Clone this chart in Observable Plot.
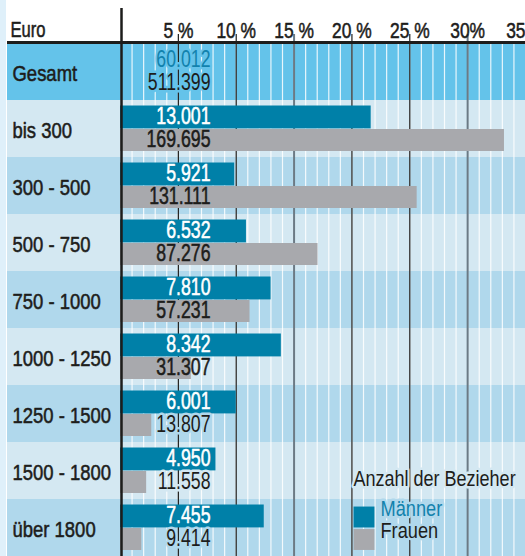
<!DOCTYPE html>
<html><head><meta charset="utf-8">
<script src="https://cdn.jsdelivr.net/npm/d3@7"></script>
<script src="https://cdn.jsdelivr.net/npm/@observablehq/plot@0.6"></script>
<style>
body{margin:0;background:#fff;}
#chart svg{display:block;}
</style></head><body><div id="chart"></div>
<script>
const categories = ["Gesamt","bis 300","300 - 500","500 - 750","750 - 1000","1000 - 1250","1250 - 1500","1500 - 1800","über 1800"];
const maenner = [60012,13001,5921,6532,7810,8342,6001,4950,7455];
const frauen  = [511399,169695,131111,87276,57231,31307,13807,11558,9414];
const tickValues = [5,10,15,20,25,30,35];
const tickLabels = ["5 %","10 %","15 %","20 %","25 %","30%","35"];
const legendTitle = "Anzahl der Bezieher";
const seriesNames = ["Männer","Frauen"];

const TEAL = "#0080a8", GRAY = "#a8a9ad", INK = "#1d1d1b", TEAL_TEXT = "#1282ad";
const BG_TOTAL = "#64c3ea", BG_LIGHT = "#d4e8f2", BG_DARK = "#b0d8ec";
const xMax = 35;
const FONT = "'Liberation Sans', Arial, sans-serif";

// font sizes, each mapped to a horizontal condensing factor (imitates the condensed face)
const FS_VALUE = 23, FS_ROW = 22, FS_TICK = 22.6, FS_EURO = 22.4, FS_LTITLE = 21.2, FS_LITEM = 22.2;
const condense = {[FS_VALUE]: 0.77, [FS_ROW]: 0.84, [FS_TICK]: 0.77, [FS_EURO]: 0.74, [FS_LTITLE]: 0.85, [FS_LITEM]: 0.82};

const fmt = d3.formatLocale({thousands: ".", grouping: [3], decimal: ",", currency: ["","€"]}).format(",d");

const rows = categories.map((c, i) => ({
  cat: c, i,
  m: maenner[i], f: frauen[i],
  mShare: maenner[i] / maenner[0] * 100,
  fShare: frauen[i] / frauen[0] * 100,
  bg: i === 0 ? BG_TOTAL : (i % 2 ? BG_LIGHT : BG_DARK)
}));
const barRows = rows.slice(1);

// text: either with a halo in the background colour (hides grid lines) or with a thin stroke for weight
function label(data, opts, haloColor) {
  if (haloColor) return Plot.text(data, {...opts, stroke: haloColor, strokeWidth: 5, paintOrder: "stroke", strokeLinejoin: "round"});
  return Plot.text(data, {...opts, stroke: opts.fill, strokeWidth: 0.55});
}

const chart = Plot.plot({
  width: 525, height: 556,
  marginLeft: 120, marginRight: 0, marginTop: 42, marginBottom: 0,
  x: {domain: [0, xMax], axis: null},
  y: {domain: categories, axis: null, padding: 0},
  color: {type: "identity"},
  style: {fontFamily: FONT, background: "linear-gradient(to right, #dff0fa 0px, #dff0fa 6px, #ffffff 6px)"},
  marks: [
    Plot.barX(rows, {x1: 0, x2: xMax, y: "cat", fill: "bg", insetLeft: -113}),
    Plot.ruleX(d3.range(1, xMax), {stroke: "white", strokeWidth: 1.2, strokeOpacity: 0.85}),
    Plot.ruleX(tickValues.slice(0, -1), {
      stroke: d => d % 15 === 0 ? "#6b7a85" : INK,
      strokeWidth: d => d % 15 === 0 ? 2 : 1.2,
      insetTop: -8
    }),
    Plot.barX(barRows, {x1: 0, x2: "mShare", y: "cat", fill: TEAL, insetTop: 5.5, insetBottom: 28.6}),
    Plot.barX(barRows, {x1: 0, x2: "fShare", y: "cat", fill: GRAY, insetTop: 29, insetBottom: 6}),
    Plot.ruleX([0], {stroke: INK, strokeWidth: 2.5, dx: 1, insetTop: -34}),
    Plot.frame({anchor: "top", stroke: INK, strokeWidth: 3, insetLeft: -112}),
    // header
    label(["Euro"], {frameAnchor: "top-left", dx: -110, dy: -21, textAnchor: "start", fontSize: FS_EURO, fill: INK}),
    label(tickValues.slice(0, -1), {x: d => d, frameAnchor: "top", dy: -21, text: (d, i) => tickLabels[i], fontSize: FS_TICK, fill: INK}),
    label(tickValues.slice(-1), {x: d => d, frameAnchor: "top", dy: -21, text: () => tickLabels[tickLabels.length - 1], textAnchor: "end", fontSize: FS_TICK, fill: INK}),
    // row labels
    label(rows, {y: "cat", text: "cat", frameAnchor: "left", dx: -108, dy: 1.5, textAnchor: "start", fontSize: FS_ROW, fill: INK}),
    // value labels: Männer
    label(rows.slice(0, 1), {y: "cat", text: d => fmt(d.m), frameAnchor: "left", dx: 90, dy: -12, textAnchor: "end", fontSize: FS_VALUE, fill: TEAL_TEXT}, BG_TOTAL),
    label(barRows, {y: "cat", text: d => fmt(d.m), frameAnchor: "left", dx: 90, dy: -12, textAnchor: "end", fontSize: FS_VALUE, fill: "white"}),
    // value labels: Frauen
    label(rows.filter(d => d.i === 0 || d.fShare < 3.5), {y: "cat", text: d => fmt(d.f), frameAnchor: "left", dx: 90, dy: 11, textAnchor: "end", fontSize: FS_VALUE, fill: INK}, "bg"),
    label(rows.filter(d => !(d.i === 0 || d.fShare < 3.5)), {y: "cat", text: d => fmt(d.f), frameAnchor: "left", dx: 90, dy: 11, textAnchor: "end", fontSize: FS_VALUE, fill: INK}),
    // legend
    label([legendTitle], {frameAnchor: "bottom-left", dx: 233, dy: -70.5, textAnchor: "start", fontSize: FS_LTITLE, fill: INK}, BG_LIGHT),
    Plot.dot([seriesNames[0]], {frameAnchor: "bottom-left", dx: 243.5, dy: -39.5, symbol: "square", r: 11.8, fill: TEAL}),
    Plot.dot([seriesNames[1]], {frameAnchor: "bottom-left", dx: 243.5, dy: -17, symbol: "square", r: 11.8, fill: GRAY}),
    label([seriesNames[0]], {frameAnchor: "bottom-left", dx: 260, dy: -41, textAnchor: "start", fontSize: FS_LITEM, fill: TEAL_TEXT}, BG_DARK),
    label([seriesNames[1]], {frameAnchor: "bottom-left", dx: 260, dy: -18.5, textAnchor: "start", fontSize: FS_LITEM, fill: INK}, BG_DARK),
  ]
});

// squeeze each text horizontally around its anchor point
chart.querySelectorAll("text").forEach(t => {
  const g = t.closest("[font-size]");
  const fs = g ? parseFloat(g.getAttribute("font-size")) : NaN;
  const s = condense[fs];
  if (!s) return;
  let tr = t.getAttribute("transform");
  if (!tr) {
    const x = +t.getAttribute("x") || 0, y = +t.getAttribute("y") || 0;
    t.removeAttribute("x"); t.removeAttribute("y");
    tr = `translate(${x},${y})`;
  }
  t.setAttribute("transform", `${tr} scale(${s},1)`);
});
document.getElementById("chart").appendChild(chart);
</script></body></html>
